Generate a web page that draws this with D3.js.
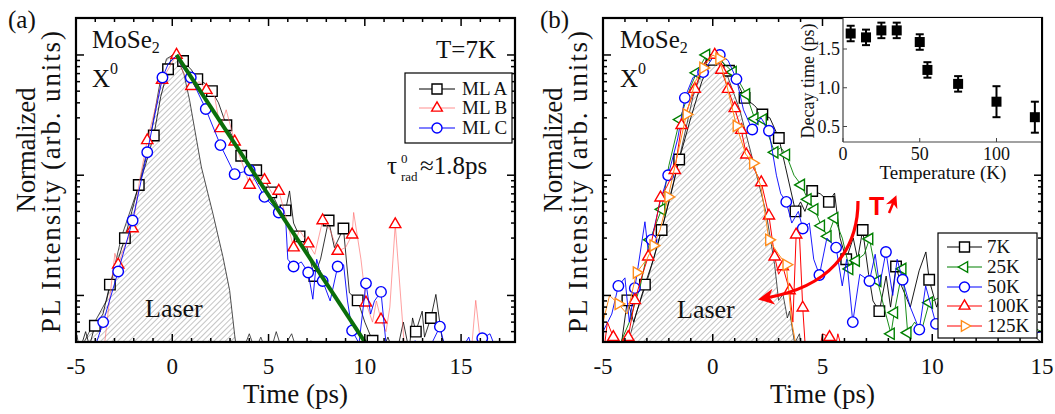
<!DOCTYPE html>
<html>
<head>
<meta charset="utf-8">
<script src="https://cdn.jsdelivr.net/npm/d3@7"></script>
<style>
  body { margin: 0; background: #fff; }
</style>
</head>
<body>
<div id="chart"></div>
<script>
// ---- data: [time (ps), normalized intensity] ----
// panel (a), T = 7K
var mlA_mk = [[-4.02,0.0056],[-3.24,0.0123],[-2.46,0.030],[-1.74,0.083],[-0.96,0.214],[-0.22,0.76],[0.56,0.89],[1.30,0.63],[2.06,0.50],[2.81,0.26],[3.58,0.145],[4.36,0.11],[5.14,0.072],[5.88,0.051],[6.61,0.031],[7.38,0.0145],[8.12,0.042],[8.89,0.036],[9.63,0.0091],[10.40,0.0042],[12.65,0.005],[13.43,0.0065]];
var mlA_ln = [[-4.8,0.0035],[-4.5,0.005],[-4.3,0.0038],[-3.6,0.007],[-2.9,0.018],[-2.1,0.05],[-1.4,0.12],[-0.6,0.45],[0.0,1.0],[0.3,0.97],[1.0,0.75],[1.7,0.58],[2.4,0.40],[3.2,0.2],[4.0,0.115],[4.7,0.1],[5.5,0.055],[6.09,0.074],[6.3,0.04],[7.0,0.025],[7.7,0.02],[8.42,0.025],[9.2,0.0105],[10.0,0.006],[10.8,0.0032],[11.2,0.0045],[11.6,0.003],[12.0,0.006],[12.3,0.0035],[12.48,0.0065],[12.98,0.0074],[13.1,0.0045],[13.69,0.0102],[14.0,0.0045],[14.4,0.003],[15.0,0.003]];
var mlB_mk = [[-2.81,0.018],[-2.06,0.036],[-1.30,0.195],[-0.53,0.62],[0.22,1.0],[0.99,0.55],[1.77,0.51],[2.50,0.245],[3.24,0.19],[4.02,0.083],[4.79,0.091],[5.53,0.074],[6.30,0.025],[7.06,0.027],[7.81,0.042],[8.59,0.0234],[9.34,0.032],[10.06,0.0087],[10.84,0.0063],[11.58,0.039]];
var mlB_ln = [[-3.6,0.003],[-3.3,0.008],[-2.98,0.0224],[-2.5,0.025],[-1.7,0.09],[-0.9,0.35],[0.6,0.7],[1.4,0.6],[2.2,0.45],[2.8,0.35],[3.6,0.13],[4.4,0.1],[5.2,0.07],[5.9,0.045],[6.6,0.035],[7.4,0.022],[8.2,0.035],[9.0,0.025],[9.42,0.049],[9.8,0.02],[10.4,0.006],[10.6,0.009],[11.1,0.005],[11.3,0.008],[12.1,0.003],[12.5,0.0035],[13.0,0.003],[15.5,0.003],[15.76,0.0091],[16.1,0.003]];
var mlC_mk = [[-3.59,0.006],[-2.81,0.0158],[-2.06,0.042],[-1.30,0.155],[-0.51,0.65],[0.96,0.65],[1.74,0.355],[2.50,0.178],[3.24,0.102],[4.02,0.11],[4.79,0.066],[5.53,0.049],[6.30,0.0174],[7.06,0.0155],[7.81,0.0132],[8.59,0.0174],[9.34,0.0051],[10.06,0.0126],[10.84,0.0107],[13.9,0.0055],[16.1,0.0044]];
var mlC_ln = [[-4.2,0.003],[-0.2,0.85],[0.2,0.98],[0.5,0.8],[5.9,0.04],[6.0,0.02],[6.7,0.019],[7.3,0.0093],[7.5,0.02],[8.2,0.009],[8.9,0.018],[9.1,0.009],[9.7,0.004],[10.3,0.007],[10.5,0.009],[11.1,0.004],[11.3,0.003],[12.3,0.003],[12.6,0.0042],[13.3,0.0035],[14.3,0.003],[15.0,0.0035],[15.4,0.0045],[15.7,0.003],[16.5,0.0048],[17.0,0.003]];
var laserA = [[-5.0,0.0035],[-4.96,0.0047],[-4.8,0.0035],[-4.36,0.0048],[-3.41,0.0091],[-2.63,0.031],[-1.77,0.079],[-1.17,0.195],[-0.65,0.575],[-0.30,0.93],[0.04,1.0],[0.3,0.9],[0.6,0.7],[0.9,0.42],[1.51,0.117],[2.11,0.048],[2.63,0.021],[2.98,0.011],[3.24,0.0047],[3.4,0.003]];
var laserA_tail = [[3.4,0.003],[3.7,0.0036],[4.0,0.0048],[4.3,0.0035],[4.6,0.0045],[5.0,0.003],[5.4,0.005],[5.7,0.0035],[6.2,0.0048],[6.6,0.003],[7.2,0.0042],[7.6,0.003],[8.6,0.0035],[9.0,0.003]];
var fitT = [0.22, 10.5];
var fitI = [1.0, 0.0031];

// panel (b), temperature series
var k7_mk = [[-3.89,0.0091],[-3.09,0.0123],[-2.33,0.035],[-1.53,0.135],[-0.06,0.91],[0.74,0.74],[1.45,0.44],[2.26,0.32],[3.01,0.204],[3.77,0.05],[4.53,0.074],[5.29,0.06],[6.08,0.02],[6.83,0.035],[7.59,0.0074],[8.35,0.0174],[9.86,0.0135]];
var k7_ln = [[-4.9,0.003],[-4.5,0.0045],[-4.2,0.0035],[-3.6,0.006],[-2.7,0.02],[-1.9,0.07],[-1.0,0.3],[-0.5,0.6],[0.3,0.95],[1.1,0.6],[1.9,0.38],[2.6,0.3],[3.3,0.12],[4.0,0.06],[4.2,0.05],[4.9,0.07],[5.1,0.065],[5.55,0.071],[5.8,0.03],[6.4,0.03],[6.6,0.02],[7.1,0.015],[7.3,0.009],[7.9,0.0145],[8.1,0.008],[8.6,0.012],[9.0,0.008],[9.4,0.016],[9.71,0.023],[10.2,0.008],[10.5,0.012],[11.0,0.006],[12.0,0.008],[13.0,0.005],[14.0,0.006],[15.0,0.004]];
var k25_mk = [[-2.86,0.029],[-2.33,0.052],[-1.5,0.29],[-0.74,0.71],[-0.29,1.0],[0.92,0.72],[1.53,0.47],[1.91,0.295],[2.29,0.29],[2.82,0.155],[3.35,0.148],[4.03,0.083],[4.33,0.063],[4.64,0.052],[4.94,0.038],[5.24,0.031],[5.55,0.044],[6.23,0.0166],[6.53,0.0195],[7.14,0.0295],[7.51,0.0132],[8.12,0.0048],[8.27,0.0072],[8.65,0.0166],[8.88,0.0049],[9.86,0.0087]];
var k25_ln = [[-4.5,0.003],[-3.8,0.006],[-3.3,0.012],[-2.0,0.12],[-1.0,0.55],[0.2,0.95],[0.5,0.85],[1.2,0.6],[2.6,0.2],[3.1,0.17],[3.7,0.1],[5.9,0.03],[6.9,0.022],[7.8,0.008],[9.2,0.006],[9.5,0.005],[10.5,0.01],[11.0,0.006],[12.0,0.008],[13.0,0.005],[14.0,0.006],[15.0,0.005]];
var k50_mk = [[-4.30,0.012],[-3.55,0.0115],[-2.79,0.029],[-2.03,0.1],[-1.27,0.44],[-0.44,0.72],[0.32,1.0],[1.08,0.63],[1.80,0.24],[2.56,0.234],[3.35,0.06],[4.10,0.036],[4.86,0.0148],[5.62,0.025],[6.38,0.006],[7.14,0.0132],[7.89,0.023],[8.65,0.0135],[9.41,0.0052],[10.17,0.0058]];
var k50_ln = [[-5.0,0.005],[-4.6,0.007],[-4.0,0.014],[-3.8,0.006],[-3.09,0.041],[-2.9,0.02],[-2.4,0.06],[-1.6,0.2],[-0.9,0.65],[0.0,0.95],[0.7,0.9],[1.4,0.35],[2.2,0.3],[2.9,0.1],[3.1,0.07],[3.6,0.04],[3.9,0.05],[4.4,0.04],[4.6,0.02],[5.2,0.03],[5.9,0.012],[6.1,0.02],[6.7,0.015],[7.4,0.022],[7.6,0.012],[8.2,0.01],[8.4,0.02],[9.0,0.008],[9.7,0.012],[10.5,0.005],[11.0,0.007],[12.0,0.005],[13.0,0.006],[14.0,0.0045],[15.0,0.005]];
var k100_mk = [[-4.53,0.0045],[-3.85,0.0045],[-3.55,0.0091],[-2.94,0.021],[-2.38,0.065],[-1.73,0.11],[-1.42,0.26],[-0.82,0.52],[0.09,1.0],[0.39,0.75],[0.70,0.52],[1.0,0.36],[1.30,0.237],[1.53,0.148],[2.21,0.087],[2.56,0.046],[2.82,0.021],[3.19,0.0174],[3.5,0.011],[3.80,0.032],[4.10,0.0079],[5.32,0.0045]];
var k100_ln = [[-5.0,0.003],[-4.8,0.006],[-4.2,0.0032],[-3.2,0.015],[-2.6,0.04],[-2.1,0.08],[-0.4,0.85],[1.8,0.12],[3.0,0.015],[3.65,0.006],[3.95,0.032],[4.25,0.003],[4.8,0.003],[5.0,0.0048],[5.5,0.003],[5.7,0.0048],[6.0,0.003]];
var k125_mk = [[-4.30,0.0085],[-3.47,0.0155],[-2.71,0.026],[-2.03,0.066],[-1.20,0.32],[-0.44,0.78],[0.29,0.93],[1.08,0.257],[1.83,0.126],[2.56,0.029],[3.35,0.018]];
var k125_ln = [[-5.0,0.006],[-4.7,0.01],[-3.9,0.007],[-3.0,0.02],[-2.4,0.035],[-1.6,0.15],[-0.8,0.6],[0.0,1.0],[0.6,0.6],[1.5,0.15],[2.2,0.08],[3.0,0.022],[3.6,0.006],[3.9,0.003]];
var laserB = [[-5.0,0.0032],[-4.6,0.0045],[-4.3,0.0035],[-3.86,0.004],[-3.5,0.007],[-2.94,0.0141],[-2.33,0.035],[-1.6,0.12],[-0.9,0.45],[-0.36,0.87],[0.01,1.0],[0.62,0.71],[1.23,0.35],[1.83,0.133],[2.44,0.048],[2.82,0.018],[3.0,0.0091],[3.2,0.0102],[3.4,0.0065],[3.5,0.0074],[3.73,0.004],[3.95,0.0048],[4.1,0.003]];

// inset: decay time vs temperature
var temps = [5, 15, 25, 35, 50, 55, 75, 100, 125];
var decay = [1.70, 1.65, 1.74, 1.74, 1.59, 1.23, 1.05, 0.82, 0.62];
var decayErr = [0.1, 0.1, 0.1, 0.1, 0.1, 0.1, 0.1, 0.2, 0.2];

var legendA = ["ML A", "ML B", "ML C"];
var legendB = ["7K", "25K", "50K", "100K", "125K"];
var xTicksMajor = [-5, 0, 5, 10, 15];

// ---- setup ----
var W = 1055, H = 414;
var SERIF = "'Liberation Serif', 'Times New Roman', Times, serif";
var svg = d3.select("#chart").append("svg").attr("width", W).attr("height", H)
    .attr("font-family", SERIF).attr("fill", "#111");
var defs = svg.append("defs");

var hatch = defs.append("pattern").attr("id", "hatch")
    .attr("patternUnits", "userSpaceOnUse").attr("width", 4).attr("height", 4)
    .attr("patternTransform", "rotate(45)");
hatch.append("line").attr("x1", 0).attr("y1", 0).attr("x2", 0).attr("y2", 4)
    .attr("stroke", "#555").attr("stroke-width", 0.7);

defs.append("marker").attr("id", "arrowhead").attr("viewBox", "0 0 10 10")
    .attr("refX", 5).attr("refY", 5).attr("markerWidth", 5).attr("markerHeight", 5)
    .attr("orient", "auto").attr("markerUnits", "strokeWidth")
  .append("path").attr("d", "M0,0 L10,5 L0,10 L3,5 Z").attr("fill", "#f00");

var yDom = [0.0041, 2.03];

function merge(a, b) { return a.concat(b).sort(function (p, q) { return p[0] - q[0]; }); }

function markerPath(shape, s) {
    if (shape == "square") return d3.symbol(d3.symbolSquare, s * s)();
    if (shape == "circle") return d3.symbol(d3.symbolCircle, Math.PI * s * s / 4)();
    return d3.symbol(d3.symbolTriangle, s * s * 0.5)();
}
function markerRot(shape) {
    if (shape == "tleft") return " rotate(-90)";
    if (shape == "tright") return " rotate(90)";
    return "";
}

function makePanel(id, x0, x1, xDom) {
    var x = d3.scaleLinear().domain(xDom).range([x0, x1]);
    var y = d3.scaleLog().domain(yDom).range([342, 18]);
    defs.append("clipPath").attr("id", "clip" + id)
      .append("rect").attr("x", x0).attr("y", 18).attr("width", x1 - x0).attr("height", 324);
    var g = svg.append("g");
    var data = g.append("g").attr("clip-path", "url(#clip" + id + ")");
    return { x: x, y: y, g: g, data: data, x0: x0, x1: x1 };
}

function drawLaser(p, pts, tail) {
    var area = d3.area().x(function (d) { return p.x(d[0]); })
        .y0(342).y1(function (d) { return p.y(d[1]); });
    p.data.append("path").attr("d", area(pts)).attr("fill", "url(#hatch)");
    var line = d3.line().x(function (d) { return p.x(d[0]); }).y(function (d) { return p.y(d[1]); });
    p.data.append("path").attr("d", line(pts.concat(tail || []))).attr("fill", "none")
        .attr("stroke", "#222").attr("stroke-width", 0.8);
}

function drawSeries(p, mk, ln, color, shape, lw, lineColor) {
    var line = d3.line().x(function (d) { return p.x(d[0]); }).y(function (d) { return p.y(d[1]); });
    p.data.append("path").attr("d", line(merge(mk, ln))).attr("fill", "none")
        .attr("stroke", lineColor || color).attr("stroke-width", lw);
    p.data.selectAll(null).data(mk).enter().append("path")
        .attr("d", markerPath(shape, 10.5))
        .attr("transform", function (d) { return "translate(" + p.x(d[0]) + "," + p.y(d[1]) + ")" + markerRot(shape); })
        .attr("fill", "#fff").attr("stroke", color).attr("stroke-width", 1.4);
}

function drawFrame(p) {
    var g = p.g, x = p.x, y = p.y;
    var xd = x.domain();
    var minorX = d3.range(Math.ceil(xd[0]), Math.floor(xd[1]) + 1);
    minorX.forEach(function (t) {
        var L = (t % 5 == 0) ? 8 : 4;
        g.append("line").attr("x1", x(t)).attr("x2", x(t)).attr("y1", 342).attr("y2", 342 - L).attr("stroke", "#000").attr("stroke-width", 1.5);
        g.append("line").attr("x1", x(t)).attr("x2", x(t)).attr("y1", 18).attr("y2", 18 + L).attr("stroke", "#000").attr("stroke-width", 1.5);
    });
    var yt = [];
    [0.001, 0.01, 0.1, 1].forEach(function (dec) {
        for (var k = 1; k < 10; k++) {
            var v = dec * k;
            if (v > yDom[0] && v < yDom[1] * 0.98) yt.push([v, k == 1]);
        }
    });
    yt.forEach(function (d) {
        var L = d[1] ? 8 : 4;
        g.append("line").attr("x1", p.x0).attr("x2", p.x0 + L).attr("y1", y(d[0])).attr("y2", y(d[0])).attr("stroke", "#000").attr("stroke-width", 1.5);
        g.append("line").attr("x1", p.x1).attr("x2", p.x1 - L).attr("y1", y(d[0])).attr("y2", y(d[0])).attr("stroke", "#000").attr("stroke-width", 1.5);
    });
    g.append("rect").attr("x", p.x0).attr("y", 18).attr("width", p.x1 - p.x0).attr("height", 324)
        .attr("fill", "none").attr("stroke", "#000").attr("stroke-width", 2.2);
    g.selectAll(null).data(xTicksMajor.filter(function (t) { return t >= xd[0] && t <= xd[1]; })).enter()
      .append("text").attr("x", function (t) { return x(t); }).attr("y", 374)
        .attr("text-anchor", "middle").attr("font-size", 23)
        .text(function (t) { return t < 0 ? "-" + (-t) : t; });
    g.append("text").attr("x", (p.x0 + p.x1) / 2).attr("y", 403).attr("text-anchor", "middle")
        .attr("font-size", 27).text("Time (ps)");
}

function yLabel(cx) {
    svg.append("text").attr("transform", "translate(" + (cx - 25) + ",150) rotate(-90)")
        .attr("text-anchor", "middle").attr("font-size", 27).attr("textLength", 125).text("Normalized");
    svg.append("text").attr("transform", "translate(" + cx + ",182) rotate(-90)")
        .attr("text-anchor", "middle").attr("font-size", 27).attr("textLength", 302).text("PL Intensity (arb. units)");
}

function sampleLabel(x0) {
    var t = svg.append("text").attr("x", x0).attr("y", 48).attr("font-size", 25);
    t.append("tspan").text("MoSe");
    t.append("tspan").attr("font-size", 16).attr("dy", 5).text("2");
    var t2 = svg.append("text").attr("x", x0).attr("y", 87).attr("font-size", 25);
    t2.append("tspan").text("X");
    t2.append("tspan").attr("font-size", 16).attr("dy", -13).text("0");
}

function legend(items, bx, by, bw, bh, ys, textX, lineX0, lineX1) {
    svg.append("rect").attr("x", bx).attr("y", by).attr("width", bw).attr("height", bh)
        .attr("fill", "#fff").attr("stroke", "#000").attr("stroke-width", 1.2);
    items.forEach(function (it, i) {
        var yy = ys[i];
        svg.append("line").attr("x1", lineX0).attr("x2", lineX1).attr("y1", yy).attr("y2", yy)
            .attr("stroke", it.lc || it.c).attr("stroke-width", it.lw);
        svg.append("path").attr("d", markerPath(it.s, 10))
            .attr("transform", "translate(" + ((lineX0 + lineX1) / 2) + "," + yy + ")" + markerRot(it.s))
            .attr("fill", "#fff").attr("stroke", it.c).attr("stroke-width", 1.4);
        svg.append("text").attr("x", textX).attr("y", yy + 6).attr("font-size", 19).text(it.label);
    });
}

// ---- panel (a) ----
var pa = makePanel("a", 76, 515, [-5, 17.8]);
drawLaser(pa, laserA, laserA_tail);
drawSeries(pa, mlA_mk, mlA_ln, "#000", "square", 0.8);
drawSeries(pa, mlB_mk, mlB_ln, "#f00", "triangle", 0.6, "#ff6060");
drawSeries(pa, mlC_mk, mlC_ln, "#00f", "circle", 0.9);
pa.data.append("line").attr("x1", pa.x(fitT[0])).attr("y1", pa.y(fitI[0]))
    .attr("x2", pa.x(fitT[1])).attr("y2", pa.y(fitI[1]))
    .attr("stroke", "#0a6e0a").attr("stroke-width", 4);
drawFrame(pa);
yLabel(60);
svg.append("text").attr("x", 8).attr("y", 28).attr("font-size", 25).text("(a)");
sampleLabel(92);
svg.append("text").attr("x", 145).attr("y", 317).attr("font-size", 26).text("Laser");
svg.append("text").attr("x", 496).attr("y", 58).attr("text-anchor", "end").attr("font-size", 25).text("T=7K");
svg.append("text").attr("x", 387).attr("y", 174).attr("font-size", 25).text("\u03c4");
svg.append("text").attr("x", 401).attr("y", 163).attr("font-size", 13).text("0");
svg.append("text").attr("x", 401).attr("y", 181).attr("font-size", 13).text("rad");
svg.append("text").attr("x", 420).attr("y", 174).attr("font-size", 25).text("\u22481.8ps");
legend(legendA.map(function (l, i) {
    var o = [{ c: "#000", s: "square", lw: 1 }, { c: "#f00", s: "triangle", lw: 0.7, lc: "#ff6060" }, { c: "#00f", s: "circle", lw: 1.2 }][i];
    o.label = l; return o;
}), 405, 73, 107, 70, [89, 108, 128], 462, 419, 455);

// ---- panel (b) ----
var pb = makePanel("b", 603, 1042, [-5, 15]);
drawLaser(pb, laserB, []);
drawSeries(pb, k7_mk, k7_ln, "#000", "square", 0.9);
drawSeries(pb, k25_mk, k25_ln, "#008000", "tleft", 0.9);
drawSeries(pb, k50_mk, k50_ln, "#00f", "circle", 0.9);
drawSeries(pb, k100_mk, k100_ln, "#f00", "triangle", 1.0);
drawSeries(pb, k125_mk, k125_ln, "#ff8c1a", "tright", 1.0);

// inset
var ix = d3.scaleLinear().domain([0, 129]).range([843, 1041]);
var iy = d3.scaleLinear().domain([0.3, 1.9]).range([142, 18]);
var ig = svg.append("g");
ig.append("rect").attr("x", 843).attr("y", 18).attr("width", 198).attr("height", 124).attr("fill", "#fff");
ig.append("line").attr("x1", 843).attr("x2", 843).attr("y1", 18).attr("y2", 142).attr("stroke", "#444").attr("stroke-width", 1.2);
ig.append("line").attr("x1", 843).attr("x2", 1041).attr("y1", 142).attr("y2", 142).attr("stroke", "#444").attr("stroke-width", 1.2);
[0.5, 1.0, 1.5].forEach(function (v) {
    ig.append("line").attr("x1", 843).attr("x2", 847).attr("y1", iy(v)).attr("y2", iy(v)).attr("stroke", "#444");
    ig.append("text").attr("x", 840).attr("y", iy(v) + 6).attr("text-anchor", "end").attr("font-size", 18).text(v.toFixed(1));
});
[0, 50, 100].forEach(function (v) {
    ig.append("line").attr("x1", ix(v)).attr("x2", ix(v)).attr("y1", 142).attr("y2", 138).attr("stroke", "#444");
    ig.append("text").attr("x", ix(v)).attr("y", 160).attr("text-anchor", "middle").attr("font-size", 18).text(v);
});
ig.append("text").attr("x", 943).attr("y", 179).attr("text-anchor", "middle").attr("font-size", 19).text("Temperature (K)");
ig.append("text").attr("transform", "translate(814,81) rotate(-90)").attr("text-anchor", "middle")
    .attr("font-size", 18).text("Decay time (ps)");
var pts = ig.selectAll(null).data(temps.map(function (t, i) { return [t, decay[i], decayErr[i]]; })).enter();
pts.append("line").attr("x1", function (d) { return ix(d[0]); }).attr("x2", function (d) { return ix(d[0]); })
    .attr("y1", function (d) { return iy(d[1] - d[2]); }).attr("y2", function (d) { return iy(d[1] + d[2]); })
    .attr("stroke", "#000").attr("stroke-width", 2);
[-1, 1].forEach(function (sg) {
    pts.append("line").attr("x1", function (d) { return ix(d[0]) - 4; }).attr("x2", function (d) { return ix(d[0]) + 4; })
        .attr("y1", function (d) { return iy(d[1] + sg * d[2]); }).attr("y2", function (d) { return iy(d[1] + sg * d[2]); })
        .attr("stroke", "#000").attr("stroke-width", 2);
});
pts.append("rect").attr("x", function (d) { return ix(d[0]) - 5; }).attr("y", function (d) { return iy(d[1]) - 5; })
    .attr("width", 10).attr("height", 10).attr("fill", "#000");

drawFrame(pb);
yLabel(587);
svg.append("text").attr("x", 540).attr("y", 28).attr("font-size", 25).text("(b)");
sampleLabel(620);
svg.append("text").attr("x", 677).attr("y", 318).attr("font-size", 26).text("Laser");

// temperature arrow
svg.append("path").attr("d", "M858,201 C858,252 828,287 766,298").attr("fill", "none")
    .attr("stroke", "#f00").attr("stroke-width", 3.2).attr("marker-end", "url(#arrowhead)");
svg.append("text").attr("x", 869).attr("y", 215).attr("font-size", 25).attr("font-weight", "bold")
    .attr("font-family", "'Liberation Sans', Arial, sans-serif").attr("fill", "#f00").text("T");
svg.append("line").attr("x1", 889).attr("y1", 213).attr("x2", 894).attr("y2", 201)
    .attr("stroke", "#f00").attr("stroke-width", 2.5).attr("marker-end", "url(#arrowhead)");

legend(legendB.map(function (l, i) {
    var o = [{ c: "#000", s: "square" }, { c: "#008000", s: "tleft" }, { c: "#00f", s: "circle" }, { c: "#f00", s: "triangle" }, { c: "#ff8c1a", s: "tright", lc: "#f00" }][i];
    o.label = l; o.lw = 1.2; return o;
}), 938, 233, 99, 105, [247, 267, 287, 306, 326], 987, 947, 982);
</script>
</body>
</html>
